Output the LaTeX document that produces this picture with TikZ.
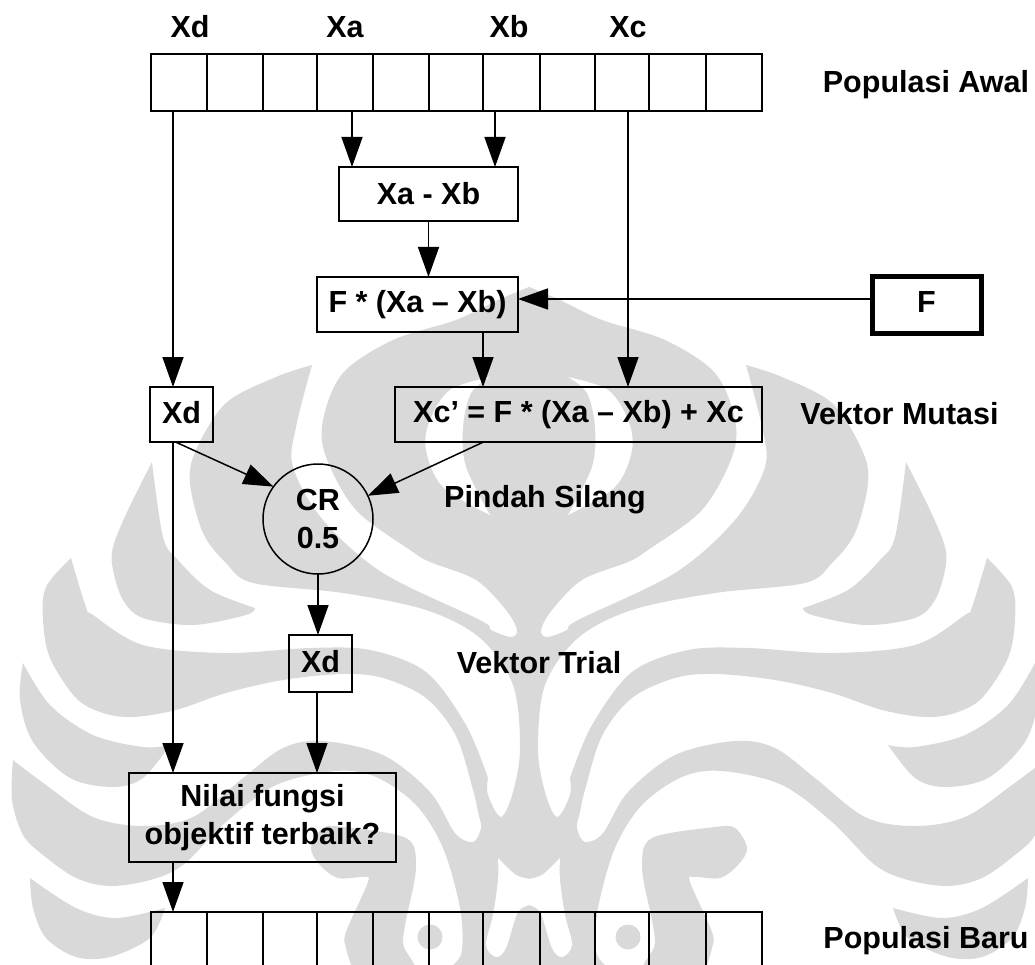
\documentclass[tikz,border=0pt]{standalone}
\usepackage{fontspec}
\setmainfont{Liberation Sans}
\usepackage{xcolor}
\usetikzlibrary{arrows.meta}
\definecolor{wmgray}{HTML}{D9D9D9}

% one half of the background emblem, drawn twice
\newcommand{\wmhalf}{%
  \fill[wm] (529,287)
    -- plot[sm] coordinates {(529,287) (560,300) (602,320) (665,340) (715,373) (735,420) (732,457) (702,510) (648,550) (628,562) (582,580) (552,610) (541,630) (547,637) (567,630) (578,620) (675,573) (735,520) (765,467) (762,427) (746,365)}
    -- plot[sm] coordinates {(746,365) (782,377) (832,403) (862,450) (868,483) (855,533) (832,563) (805,583) (715,593) (632,610) (578,638) (545,685) (538,748) (545,792) (557,817) (570,795) (570,778)}
    -- plot[sm] coordinates {(570,778) (592,725) (632,672) (688,650) (748,648) (832,653) (915,645) (965,615) (972,607) (987,558)}
    -- plot[sm] coordinates {(987,558) (1012,587) (1015,620) (1008,658) (982,698) (955,713) (925,717) (882,710) (832,693) (775,680) (715,674) (675,678) (632,698) (602,736) (585,790) (580,812) (577,828) (585,842) (603,833) (628,792) (675,755) (735,741) (775,748) (815,778) (865,817) (915,826) (965,817) (1012,785) (1045,760)}
    -- plot[sm] coordinates {(1045,760) (1046,800) (1035,835) (1015,855) (982,878) (948,886) (908,880) (875,865) (832,822) (782,785) (722,771) (682,777) (642,805) (615,848) (598,908) (596,950) (605,965) (620,975)}
    -- (528,975) -- (528,287) -- cycle;
  % petals
  \fill[wm] plot[sm] coordinates {(906,462) (930,510) (945,547) (945,570) (935,600) (915,618) (865,625) (812,615) (803,608)}
    -- plot[sm] coordinates {(803,608) (848,590) (880,560) (895,537) (906,462)} -- cycle;
  \fill[wm] plot[sm] coordinates {(1035,663) (1008,705) (965,735) (915,747) (888,745)}
    -- plot[sm] coordinates {(888,745) (915,778) (945,787) (988,778) (1025,742) (1038,700) (1035,663)} -- cycle;
  \fill[wm] plot[sm] coordinates {(893,908) (942,918) (982,908) (1028,878)}
    -- plot[sm] coordinates {(1028,878) (1025,908) (1012,938) (982,957) (948,957) (908,938) (893,908)} -- cycle;
  % ear and dot
  \fill[wm] plot[sm] coordinates {(648,902) (642,865) (652,838) (715,827) (735,828) (747,848) (738,865) (720,878) (695,877) (690,882) (712,932) (712,948) (705,970)}
    -- plot[sm] coordinates {(705,970) (645,970) (655,943) (648,902)} -- cycle;
  \fill[wm] (628,937) circle (12.5);
  % white cuts
  \fill[white] plot[sm] coordinates {(568,377) (608,390) (628,420) (632,450) (615,487) (568,515)}
    -- plot[sm] coordinates {(568,515) (592,467) (595,427) (587,393) (568,377)} -- cycle;
  \fill[white] plot[sm] coordinates {(527,879) (542,875) (560,858)}
    -- plot[sm] coordinates {(560,858) (560,880) (565,915) (572,945) (562,957) (552,948) (540,912) (527,905)} -- cycle;
}

\begin{document}
\begin{tikzpicture}[
  x=1pt, y=-1pt,
  wm/.style={wmgray},
  sm/.style={smooth, tension=0.55},
  bx/.style={draw, line width=1.5pt, inner sep=0pt, outer sep=0pt, align=center,
             font=\fontsize{30.5}{38}\selectfont\bfseries},
  cell/.style={draw, line width=1.5pt, inner sep=0pt, outer sep=0pt},
  arr/.style={-{Triangle[length=30pt, width=21pt]}, line width=1.5pt},
  lab/.style={inner sep=0pt, text height=22pt, text depth=0pt,
              font=\fontsize{30.5}{38}\selectfont\bfseries},
]
\useasboundingbox (0,0) rectangle (1035,965);
\clip (0,0) rectangle (1035,965);

% ====== background emblem ======
\wmhalf
\begin{scope}[shift={(1058,0)}, xscale=-1]
  \wmhalf
\end{scope}

% ====== populations ======
\foreach \l/\r [count=\i] in {151/207,207/263,263/317,317/373,373/429,429/483,483/540,540/595,595/649,649/706,706/762} {
  \node[cell, minimum width={(\r-\l)*1pt}, minimum height=57pt] (pop\i) at ({(\l+\r)/2},82.5) {};
  \node[cell, minimum width={(\r-\l)*1pt}, minimum height=80pt] (new\i) at ({(\l+\r)/2},952) {};
}
\node[lab] (lxd) at (190,27) {Xd};
\node[lab] (lxa) at (345,27) {Xa};
\node[lab] (lxb) at (509,27) {Xb};
\node[lab] (lxc) at (628,27) {Xc};
\node[lab] (lawal) at (926,82) {Populasi Awal};
\node[lab] (lbaru) at (926,937) {Populasi Baru};

% ====== boxes ======
\node[bx, minimum width=179pt, minimum height=54pt] (diff) at (428.5,194) {Xa - Xb};
\node[bx, minimum width=201pt, minimum height=55pt] (fdiff) at (417.5,304.5) {F * (Xa -- Xb)};
\node[bx, line width=5pt, minimum width=109pt, minimum height=56pt, text depth=5pt] (fval) at (926.5,305) {F};
\node[bx, minimum width=63pt, minimum height=55pt, text depth=4pt] (xd1) at (181.5,414.5) {Xd};
\node[bx, minimum width=367pt, minimum height=55pt] (mut) at (578.5,414.5) {Xc’ = F * (Xa -- Xb) + Xc};
\node[bx, circle, minimum size=110pt] (cr) at (318,519) {CR\\0.5};
\node[bx, minimum width=63pt, minimum height=57pt, text depth=4pt] (xd2) at (320.5,663.5) {Xd};
\node[bx, minimum width=267pt, minimum height=89pt] (best) at (262.5,817.5) {Nilai fungsi\\objektif terbaik?};

\node[lab] (lmut) at (899.5,413) {Vektor Mutasi};
\node[lab] (lcross) at (545,496) {Pindah Silang};
\node[lab] (ltrial) at (539,662) {Vektor Trial};

% ====== arrows ======
\draw[arr] ([xshift=-6pt]pop1.south) -- ([xshift=-6pt]pop1.south |- xd1.north);
\draw[arr] ([xshift=7pt]pop4.south) -- ([xshift=7pt]pop4.south |- diff.north);
\draw[arr] ([xshift=-16.5pt]pop7.south) -- ([xshift=-16.5pt]pop7.south |- diff.north);
\draw[arr] ([xshift=6pt]pop9.south) -- ([xshift=6pt]pop9.south |- mut.north);
\draw[arr] (diff.south) -- (diff.south |- fdiff.north);
\draw[arr] ([yshift=6pt]fval.west) -- ([yshift=6pt]fval.west -| fdiff.east);
\draw[arr] ([xshift=65.5pt]fdiff.south) -- ([xshift=65.5pt]fdiff.south |- mut.north);
\draw[arr] ([xshift=-6pt]xd1.south) -- (cr.144);
\draw[arr] ([xshift=-95pt]mut.south) -- (cr.25);
\draw[arr] (cr.south) -- (cr.south |- xd2.north);
\draw[arr] ([xshift=-3.5pt]xd2.south) -- ([xshift=-3.5pt]xd2.south |- best.north);
\draw[arr] ([xshift=-8.5pt]xd1.south) -- ([xshift=-8.5pt]xd1.south |- best.north);
\draw[arr] ([xshift=-6pt]new1.north |- best.south) -- ([xshift=-6pt]new1.north);

\end{tikzpicture}
\end{document}
